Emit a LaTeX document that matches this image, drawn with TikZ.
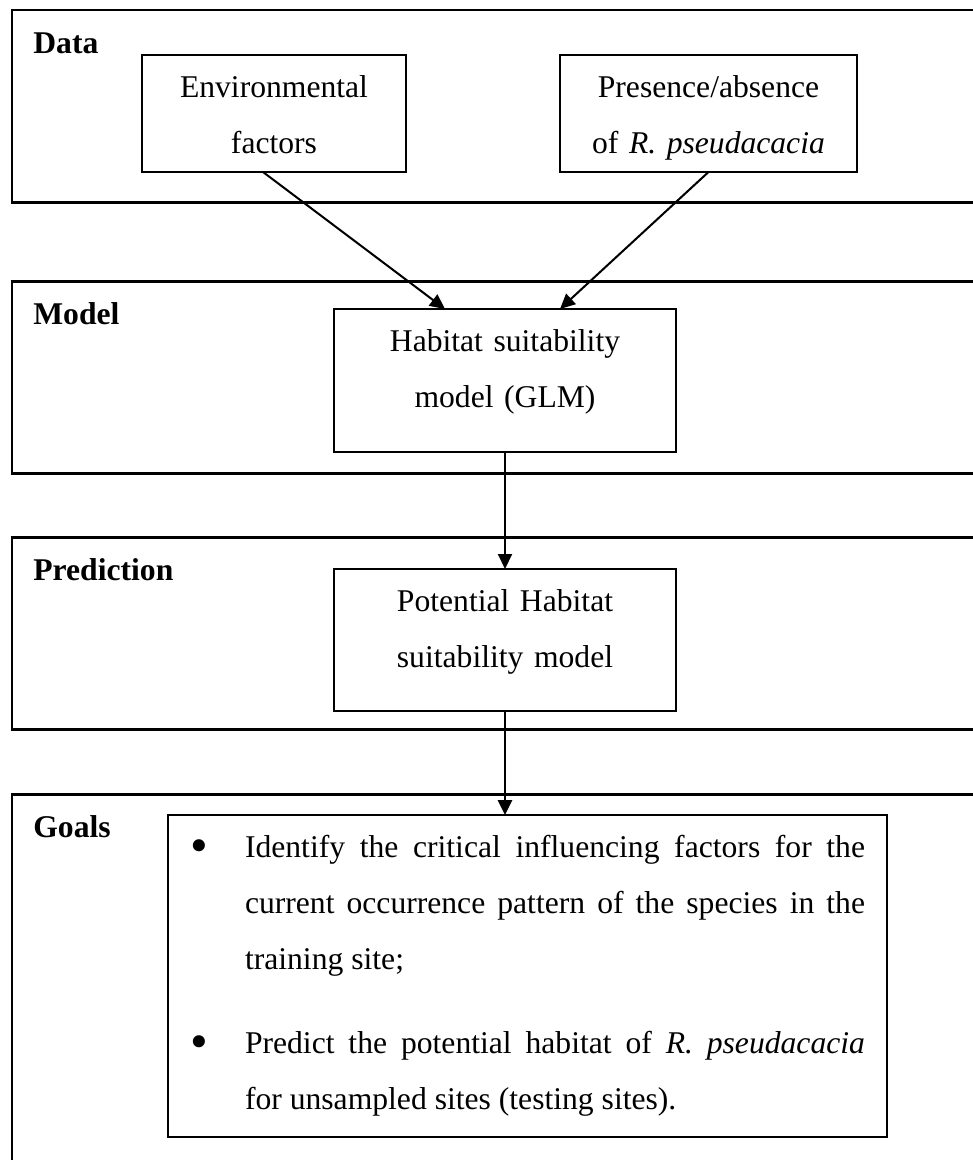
\documentclass[tikz,border=0pt]{standalone}
\usepackage{fontspec}
\setmainfont{Liberation Serif}
\usetikzlibrary{arrows.meta,positioning,calc}
\newcommand{\goalbullet}{\llap{\makebox[1.1cm][l]{\raisebox{-0.11cm}{\scalebox{1.6}{\textbullet}}}}}
\tikzset{
  >={Triangle[length=3mm,width=2.8mm]},
  panel/.style={draw,line width=1.7pt,anchor=north west,outer sep=0pt,inner sep=0pt,
    minimum width=21cm,minimum height=#1},
  tag/.style={font=\fontsize{18pt}{31.9pt}\selectfont\bfseries,anchor=base west,inner sep=0pt},
  box/.style 2 args={draw,line width=0.9pt,anchor=north west,outer sep=0pt,
    inner xsep=0pt,inner ysep=0pt,align=center,
    font=\fontsize{18pt}{31.9pt}\selectfont,
    text width=#1,text height=8.4mm,text depth=#2},
  flow/.style={->,line width=1.15pt},
}

\begin{document}
\begin{tikzpicture}
  \useasboundingbox (0,0) rectangle (19.46,-23.2);
  \clip (0,0) rectangle (19.46,-23.2);
  % stages
  \node[panel=3.84cm] (data) at (0.24,-0.2) {};
  \node[panel=3.84cm] (model) at (0.24,-5.62) {};
  \node[panel=3.84cm] (pred) at (0.24,-10.74) {};
  \node[panel=8cm] (goals) at (0.24,-15.88) {};
  \node[tag] (datatag) at ($(data.north west)+(0.42,-0.87)$) {Data};
  \node[tag] (modeltag) at ($(model.north west)+(0.42,-0.86)$) {Model};
  \node[tag] (predtag) at ($(pred.north west)+(0.42,-0.86)$) {Prediction};
  \node[tag] (goalstag) at ($(goals.north west)+(0.42,-0.86)$) {Goals};
  % boxes
  \node[box={5.28cm}{1.50cm}] (env) at (2.84,-1.10) {Environmental\\factors};
  \node[box={5.94cm}{1.50cm}] (pres) at (11.2,-1.10) {Presence/absence\\of \textit{R. pseudacacia}};
  \node[box={6.84cm}{2.02cm}] (hab) at (6.68,-6.18) {Habitat suitability\\model (GLM)};
  \node[box={6.84cm}{2.00cm}] (pot) at (6.68,-11.38) {Potential Habitat\\suitability model};
  \node[box={13.5cm}{5.60cm},inner xsep=4.4mm,align=justify] (goalbox) at (3.36,-16.30) {%
    \noindent\hangindent=1.1cm\hangafter=0\goalbullet
    Identify the critical influencing factors for the\linebreak
    current occurrence pattern of the species in the\linebreak
    training site;\par
    \vspace{0.56cm}
    \noindent\hangindent=1.1cm\hangafter=0\goalbullet
    Predict the potential habitat of \textit{R. pseudacacia}\linebreak
    for unsampled sites (testing sites).\par};
  % arrows
  \draw[flow] ($(env.south)+(-0.22,0)$) -- ($(hab.north)+(-1.2,0)$);
  \draw[flow] (pres.south) -- ($(hab.north)+(1.1,0)$);
  \draw[flow] (hab.south) -- (pot.north);
  \draw[flow,line width=1.7pt] (pot.south) -- (pot.south |- goalbox.north);
\end{tikzpicture}
\end{document}
